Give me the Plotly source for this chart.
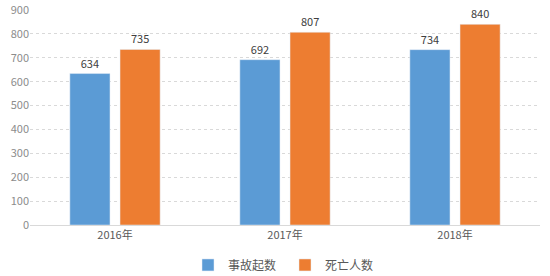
import plotly.graph_objects as go

years = ["2016年", "2017年", "2018年"]
accidents = [634, 692, 734]
deaths = [735, 807, 840]
series_names = ["事故起数", "死亡人数"]

font = "Noto Sans CJK SC"
fig = go.Figure()
fig.add_trace(go.Bar(x=years, y=accidents, name=series_names[0], marker_color="#5B9BD5",
                     text=accidents, textposition="outside",
                     textfont=dict(size=11, color="#404040", family=font), cliponaxis=False))
fig.add_trace(go.Bar(x=years, y=deaths, name=series_names[1], marker_color="#ED7D31",
                     text=deaths, textposition="outside",
                     textfont=dict(size=11, color="#404040", family=font), cliponaxis=False))

fig.update_layout(
    width=550, height=276,
    margin=dict(l=30, r=10, t=10, b=51, autoexpand=False),
    paper_bgcolor="white", plot_bgcolor="white",
    barmode="group", bargap=0.41, bargroupgap=0.2,
    font=dict(family=font, size=11, color="#595959"),
    showlegend=True,
    legend=dict(orientation="h", x=0.5, xanchor="center", yref="container", y=0.04,
                yanchor="middle", font=dict(size=12, color="#595959"),
                itemwidth=30, entrywidth=52, entrywidthmode="pixels",
                traceorder="normal", tracegroupgap=0),
    xaxis=dict(showgrid=False, showline=True, linecolor="#D9D9D9", ticks="",
               tickfont=dict(size=11, color="#595959")),
    yaxis=dict(range=[0, 900], dtick=100, showgrid=True, gridcolor="#D9D9D9",
               griddash="dot", zeroline=False, ticks="",
               tickfont=dict(size=11, color="#8C8C8C")),
)
fig.write_html("out.html")
